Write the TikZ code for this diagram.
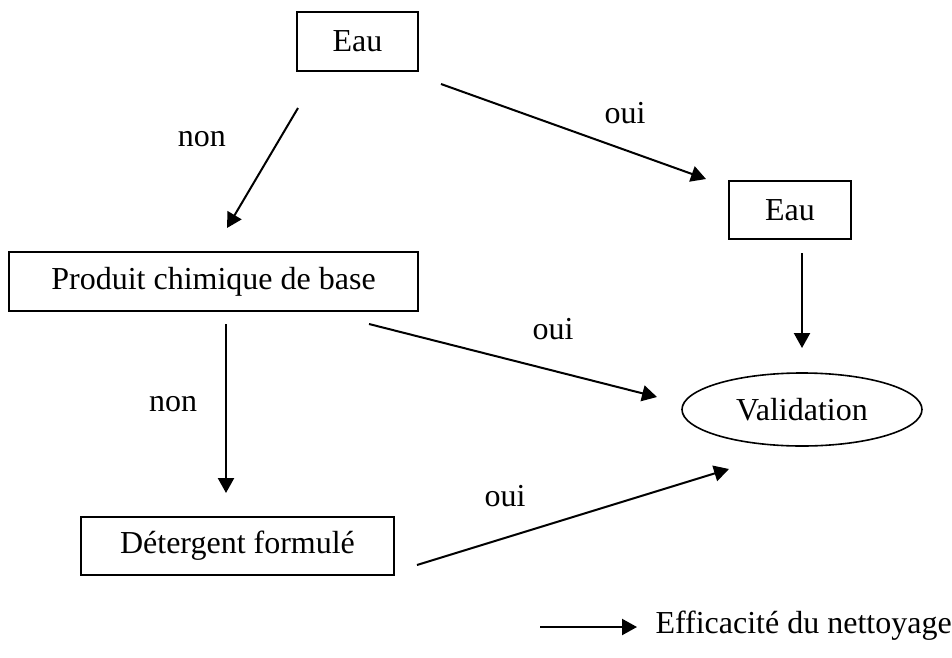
\documentclass[tikz,border=0pt]{standalone}
\usepackage{fontspec}
\setmainfont{Liberation Serif}
\usetikzlibrary{arrows.meta,shapes.geometric}
\begin{document}
\begin{tikzpicture}[x=0.375pt,y=-0.375pt,
  box/.style={draw,line width=0.9pt,rectangle,inner sep=0pt,outer sep=0pt,font=\fontsize{12}{14}\selectfont},
  oval/.style={draw,line width=0.6pt,ellipse,inner sep=0pt,outer sep=0pt,font=\fontsize{12}{14}\selectfont},
  lbl/.style={inner sep=0pt,font=\fontsize{12}{14}\selectfont},
  arr/.style={line width=0.75pt,-{Triangle[length=5.6pt,width=6pt]}}]
\useasboundingbox[fill=white] (0,0) rectangle (952,658);
% nodes
\node[box,minimum width=45.375pt,minimum height=22.125pt] (eau1) at (357.5,41.5) {Eau};
\node[box,minimum width=45.75pt,minimum height=21.75pt] (eau2) at (790,210) {Eau};
\node[box,minimum width=153.375pt,minimum height=22.125pt] (prod) at (213.5,281.5) {Produit chimique de base};
\node[box,minimum width=117.375pt,minimum height=21.75pt] (det) at (237.5,546) {Détergent formulé};
\node[oval,minimum width=90pt,minimum height=27.375pt] (val) at (802,409.5) {Validation};
% connector ends
\coordinate (a1s) at (298,108); \coordinate (a1e) at (227,228);
\coordinate (a2s) at (441,84);  \coordinate (a2e) at (706,179);
\coordinate (a3s) at (802,253); \coordinate (a3e) at (802,348);
\coordinate (a4s) at (369,324); \coordinate (a4e) at (657,397);
\coordinate (a5s) at (226,324); \coordinate (a5e) at (226,493);
\coordinate (a6s) at (417,565); \coordinate (a6e) at (729,469);
\coordinate (lgs) at (540,627); \coordinate (lge) at (637,627);
% connectors
\draw[arr] (a1s) -- (a1e);
\draw[arr] (a2s) -- (a2e);
\draw[arr] (a3s) -- (a3e);
\draw[arr] (a4s) -- (a4e);
\draw[arr] (a5s) -- (a5e);
\draw[arr] (a6s) -- (a6e);
\draw[arr] (lgs) -- (lge);
% labels
\node[lbl] (l1) at (202,139) {non};
\node[lbl] (l2) at (625,113) {oui};
\node[lbl] (l3) at (553,329) {oui};
\node[lbl] (l4) at (173,404) {non};
\node[lbl] (l5) at (505,496) {oui};
\node[lbl,anchor=base west] (leg) at (655,633) {Efficacité du nettoyage};
\end{tikzpicture}
\end{document}
